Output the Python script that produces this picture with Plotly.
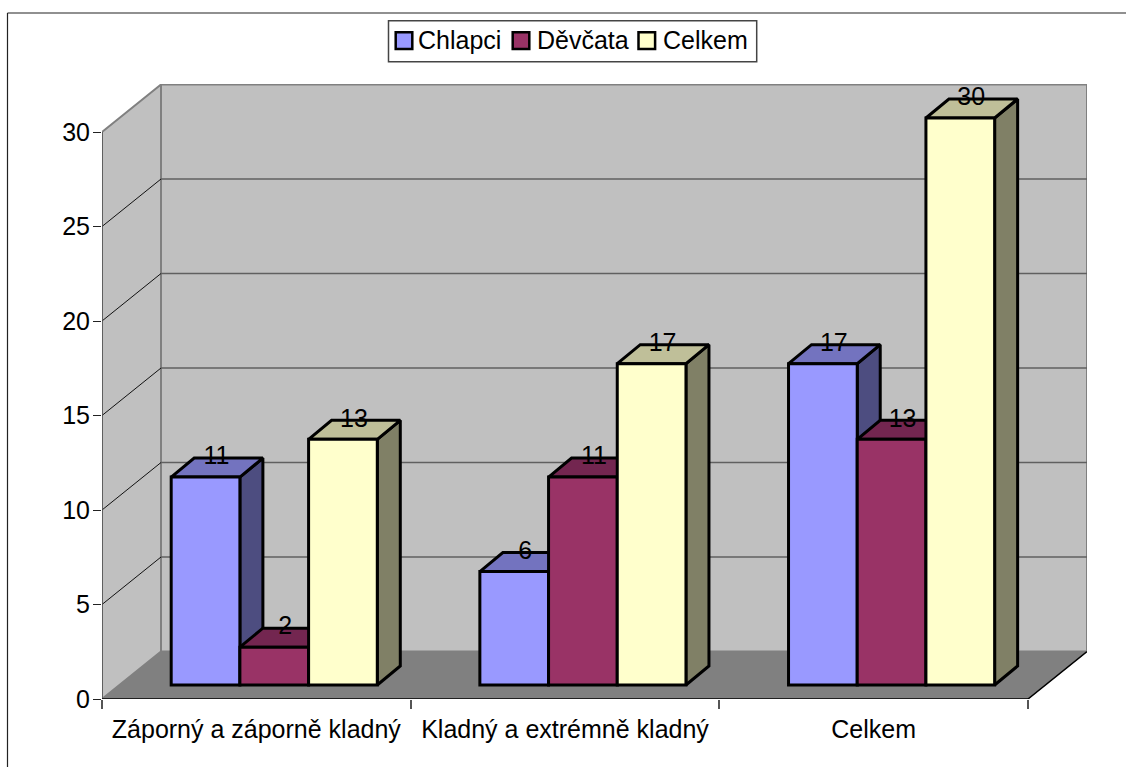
import plotly.graph_objects as go

categories = ["Záporný a záporně kladný", "Kladný a extrémně kladný", "Celkem"]
chlapci = [11, 6, 17]
devcata = [2, 11, 13]
celkem = [13, 17, 30]
y_ticks = [0, 5, 10, 15, 20, 25, 30]

series = [
    ("Chlapci", chlapci, "#9999FF", "#7373BF", "#4D4D80"),
    ("Děvčata", devcata, "#993366", "#732650", "#4D1A33"),
    ("Celkem", celkem, "#FFFFCC", "#BFBF99", "#808066"),
]

W, H = 1126, 767
L, R, T, B = 102, 39, 84, 68
PW, PH = W - L - R, H - T - B
CAT_PX = 308.67
UNIT_PX = 18.9
X_MAX = PW / CAT_PX
Y_MAX = PH / UNIT_PX
WALL_DX = 59 / CAT_PX
WALL_DY = 47.5 / UNIT_PX
BAR_DX = 23 / CAT_PX
BAR_DY = 19 / UNIT_PX
BAR_W = 68.7 / CAT_PX
BAR_BASE = 14 / UNIT_PX
GROUP_SHIFT = 0.058
LABEL_DX = 11 / CAT_PX
LABEL_DY = 19 / UNIT_PX
FONT = "Liberation Sans"
FS = 25
FS_NUM = 25

# legend layout, page pixels
LEG_BOX = (388.5, 20.7, 756.7, 61.7)
LEG_SWATCH_X = [395.7, 512.7, 638.5]
LEG_TEXT_X = [418.3, 536.7, 662.7]
LEG_SWATCH_Y = (32.3, 49)
LEG_TEXT_Y = 40.5


def px(x):
    return (x - L) / PW


def py(y):
    return (H - B - y) / PH


fig = go.Figure()


def poly(xs, ys, fill, line="#808080", width=2):
    fig.add_trace(go.Scatter(
        x=list(xs) + [xs[0]], y=list(ys) + [ys[0]], mode="lines", fill="toself", fillcolor=fill,
        line=dict(color=line, width=width), hoverinfo="skip",
        showlegend=False, cliponaxis=False))


def segs(points, color, width):
    xs, ys = [], []
    for (x0, y0, x1, y1) in points:
        xs += [x0, x1, None]
        ys += [y0, y1, None]
    fig.add_trace(go.Scatter(
        x=xs, y=ys, mode="lines", line=dict(color=color, width=width),
        hoverinfo="skip", showlegend=False, cliponaxis=False))


top = y_ticks[-1]
n = len(categories)
# floor and walls
poly([0, WALL_DX, X_MAX, n], [0, WALL_DY, WALL_DY, 0], "#808080", "#808080", 1)
poly([0, WALL_DX, WALL_DX, 0], [0, WALL_DY, WALL_DY + top, top], "#C0C0C0")
poly([WALL_DX, X_MAX, X_MAX, WALL_DX],
     [WALL_DY, WALL_DY, WALL_DY + top, WALL_DY + top], "#C0C0C0")
# gridlines
inner = y_ticks[1:-1]
segs([(0, v, WALL_DX, v + WALL_DY) for v in inner], "#111111", 1)
segs([(WALL_DX, v + WALL_DY, X_MAX, v + WALL_DY) for v in inner], "#606060", 1.5)
segs([(0, 0, 0, top)], "#555555", 1.5)
segs([(0, 0, n, 0), (n, 0, X_MAX, WALL_DY)], "#000000", 1.5)

# depth faces of the bars, left to right
for c in range(n):
    for s, (name, vals, front, topc, side) in enumerate(series):
        x0 = c + 0.5 + GROUP_SHIFT + (s - 1.5) * BAR_W
        x1 = x0 + BAR_W
        y0 = BAR_BASE
        y1 = BAR_BASE + vals[c]
        poly([x1, x1 + BAR_DX, x1 + BAR_DX, x1],
             [y0, y0 + BAR_DY, y1 + BAR_DY, y1], side, "#000000", 3)
        poly([x0, x1, x1 + BAR_DX, x0 + BAR_DX],
             [y1, y1, y1 + BAR_DY, y1 + BAR_DY], topc, "#000000", 3)

# front faces and labels on the overlay subplot
for s, (name, vals, front, topc, side) in enumerate(series):
    xs = [c + 0.5 + GROUP_SHIFT + (s - 1) * BAR_W for c in range(n)]
    fig.add_trace(go.Bar(
        x=xs, y=vals, base=[BAR_BASE] * len(vals), width=BAR_W, name=name,
        marker=dict(color=front, line=dict(color="#000000", width=3)),
        showlegend=False, xaxis="x2", yaxis="y2", hoverinfo="y"))
for s, (name, vals, front, topc, side) in enumerate(series):
    xs = [c + 0.5 + GROUP_SHIFT + (s - 1) * BAR_W + LABEL_DX for c in range(n)]
    fig.add_trace(go.Scatter(
        x=xs, y=[v + BAR_BASE + LABEL_DY for v in vals], mode="text",
        text=[str(v) for v in vals], textposition="middle center",
        textfont=dict(family=FONT, size=FS_NUM, color="#000000"),
        showlegend=False, hoverinfo="skip", xaxis="x2", yaxis="y2", cliponaxis=False))

# legend box, swatches and names
shapes = [
    dict(type="line", xref="paper", yref="paper", x0=px(7.5), x1=px(W + 5),
         y0=py(13), y1=py(13), line=dict(color="#222222", width=1.2)),
    dict(type="line", xref="paper", yref="paper", x0=px(7.5), x1=px(7.5),
         y0=py(13), y1=py(H + 5), line=dict(color="#222222", width=1.2)),
    dict(type="rect", xref="paper", yref="paper", x0=px(LEG_BOX[0]), x1=px(LEG_BOX[2]),
         y0=py(LEG_BOX[1]), y1=py(LEG_BOX[3]), fillcolor="#FFFFFF",
         line=dict(color="#444444", width=1.5)),
]
annotations = []
for i, (name, vals, front, topc, side) in enumerate(series):
    shapes.append(dict(type="rect", xref="paper", yref="paper",
                       x0=px(LEG_SWATCH_X[i]), x1=px(LEG_SWATCH_X[i] + 16.6),
                       y0=py(LEG_SWATCH_Y[0]), y1=py(LEG_SWATCH_Y[1]),
                       fillcolor=front, line=dict(color="#000000", width=2.5)))
    annotations.append(dict(xref="paper", yref="paper", x=px(LEG_TEXT_X[i]), y=py(LEG_TEXT_Y),
                            xanchor="left", yanchor="middle", text=name, showarrow=False,
                            borderpad=0, borderwidth=0,
                            font=dict(family=FONT, size=FS, color="#000000")))

fig.update_layout(
    width=W, height=H, autosize=False, showlegend=False,
    margin=dict(l=L, r=R, t=T, b=B, pad=0),
    paper_bgcolor="#FFFFFF", plot_bgcolor="rgba(0,0,0,0)",
    font=dict(family=FONT, size=FS, color="#000000"),
    barmode="overlay",
    xaxis=dict(range=[0, X_MAX], showgrid=False, zeroline=False, showline=False,
               tickmode="array", tickvals=[c + 0.5 for c in range(n)],
               ticktext=categories, ticks="", tickfont=dict(size=FS), ticklabelstandoff=13,
               minor=dict(tickmode="array", tickvals=list(range(n + 1)),
                          ticks="outside", ticklen=9, tickwidth=1.5, tickcolor="#555555")),
    yaxis=dict(range=[0, Y_MAX], showgrid=False, zeroline=False, showline=False,
               tickmode="array", tickvals=y_ticks, ticks="outside", ticklen=8,
               tickwidth=1, tickcolor="#222222", tickfont=dict(size=FS_NUM),
               ticklabelstandoff=-2),
    xaxis2=dict(range=[0, X_MAX], overlaying="x", visible=False),
    yaxis2=dict(range=[0, Y_MAX], overlaying="y", visible=False),
    shapes=shapes,
    annotations=annotations,
)
fig.write_html("out.html", config={"displayModeBar": False},
               post_script="document.body.style.margin='0';")
